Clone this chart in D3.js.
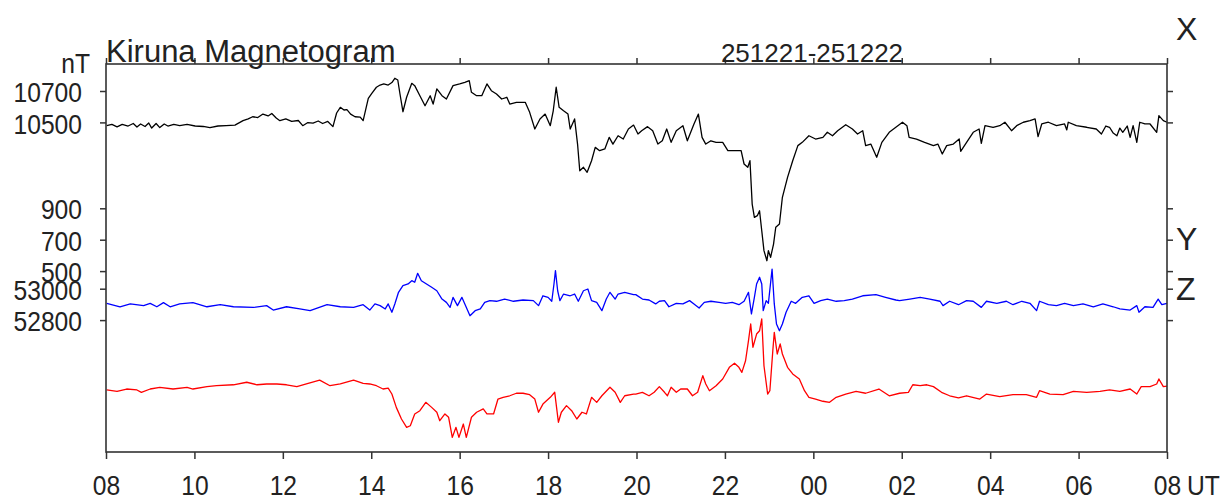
<!DOCTYPE html>
<html><head><meta charset="utf-8">
<script src="https://cdn.jsdelivr.net/npm/d3@7"></script>
<style>
body{margin:0;background:#fff}
svg{display:block}
text{font-family:"Liberation Sans",Arial,Helvetica,sans-serif;fill:#222}
</style>
</head><body>
<svg id="chart" width="1221" height="502"></svg>
<script>
// ---- labels / ticks ----
const titleText = "Kiruna Magnetogram";
const dateText = "251221-251222";
const hourTickMinutes = [0,120,240,360,480,600,720,840,960,1080,1200,1320,1440];
const hourLabels = ["08","10","12","14","16","18","20","22","00","02","04","06","08"];
const xTickValues = [10500,10700];
const yTickValues = [500,700,900];
const zTickValues = [52800,53000];
const componentNames = ["X","Y","Z"];

// ---- X component (black), minutes after 08 UT ----
const xMinutes = [1,8,15,22,30,37,42,47,53,58,62,68,73,79,84,92,100,110,121,132,141,152,163,175,186,193,199,206,213,220,225,231,236,244,252,261,267,274,281,288,294,301,308,313,318,323,327,332,338,345,349,353,356,361,367,372,377,383,388,392,396,399,403,408,415,419,426,433,440,444,449,456,462,471,480,487,493,496,503,510,517,523,530,537,544,548,557,569,575,582,589,596,603,607,611,615,621,627,630,636,640,643,648,653,659,664,670,677,683,688,695,702,709,716,722,727,735,742,749,755,761,767,774,783,789,798,804,809,814,821,828,837,844,853,862,866,871,874,877,880,884,887,890,893,897,899,902,906,909,914,918,925,932,939,945,954,963,973,979,986,993,1004,1013,1020,1027,1031,1038,1046,1053,1063,1072,1081,1087,1090,1100,1111,1123,1129,1135,1141,1150,1158,1160,1168,1177,1185,1188,1193,1204,1213,1220,1229,1236,1245,1254,1261,1265,1270,1279,1290,1301,1304,1306,1317,1331,1344,1351,1357,1362,1367,1372,1376,1380,1386,1390,1394,1399,1403,1410,1417,1426,1429,1435,1440];
const xNT = [10479,10487,10471,10487,10477,10493,10471,10490,10474,10496,10464,10493,10467,10490,10477,10487,10480,10487,10477,10474,10467,10477,10480,10483,10511,10522,10536,10531,10553,10541,10557,10528,10511,10522,10506,10512,10479,10499,10496,10509,10493,10506,10473,10560,10596,10579,10581,10553,10536,10534,10511,10592,10653,10687,10724,10738,10745,10738,10754,10781,10770,10681,10568,10660,10749,10734,10670,10606,10670,10617,10713,10670,10649,10734,10745,10755,10766,10692,10670,10670,10745,10702,10681,10649,10660,10617,10628,10628,10564,10458,10522,10553,10479,10574,10724,10596,10574,10553,10458,10522,10362,10192,10214,10182,10256,10341,10320,10331,10405,10362,10415,10394,10458,10483,10426,10447,10473,10447,10362,10383,10458,10373,10447,10479,10383,10490,10553,10405,10362,10383,10373,10373,10320,10320,10320,10235,10214,10256,9980,9895,9906,9937,9810,9683,9619,9683,9641,9725,9832,9853,10023,10150,10256,10352,10373,10415,10394,10405,10437,10415,10447,10485,10458,10426,10447,10352,10362,10278,10373,10437,10469,10501,10479,10405,10394,10373,10352,10362,10299,10352,10362,10394,10316,10373,10437,10458,10367,10479,10469,10479,10501,10447,10479,10501,10511,10522,10409,10490,10501,10479,10490,10452,10501,10479,10469,10458,10426,10477,10469,10432,10415,10464,10437,10477,10405,10479,10373,10501,10490,10490,10437,10543,10511,10501];

// ---- Z component (blue) ----
const zMinutes = [1,19,33,51,60,69,78,87,100,118,137,155,173,200,218,227,245,263,277,300,318,336,349,
358,365,372,379,383,388,392,397,403,410,415,419,423,428,435,442,449,456,462,467,471,477,483,487,494,501,508,514,521,530,541,553,566,580,587,593,600,605,608,610,613,616,621,630,636,641,648,654,659,666,673,679,684,691,695,704,716,
719,728,737,746,751,758,764,774,783,792,798,805,812,821,832,841,850,859,866,872,876,880,883,887,890,892,896,899,904,907,910,914,918,923,930,936,945,954,961,970,979,991,1002,1013,1027,1045,1058,1072,
1077,1091,1105,1118,1132,1136,1145,1157,1168,1177,1188,1195,1209,1222,1231,1243,1254,1263,1267,1279,1290,1301,1313,1326,1340,1353,1367,1376,1390,1399,1402,1410,1421,1428,1433,1440];
const zNT = [52907,52885,52903,52892,52907,52885,52911,52885,52903,52911,52885,52898,52885,52881,52892,52864,52885,52871,52860,52898,52885,52881,52898,
52864,52903,52892,52871,52903,52850,52903,52977,53019,53030,53051,53041,53098,53051,53030,53009,52987,52934,52913,52881,52945,52892,52945,52903,52828,52860,52871,52913,52924,52920,52934,52920,52928,52924,52892,52955,52945,52920,53030,53115,52987,52924,52966,52955,52966,52920,52987,52998,52924,52913,52860,52934,52977,52934,52966,52977,52962,
52962,52934,52928,52903,52920,52924,52885,52907,52903,52924,52903,52877,52913,52920,52913,52907,52913,52898,52920,52977,52839,52945,53030,53073,53030,52860,52924,52907,53125,52903,52775,52732,52775,52850,52920,52907,52945,52955,52907,52924,52934,52920,52924,52934,52955,52962,52945,52928,
52924,52934,52945,52934,52920,52892,52920,52898,52924,52920,52881,52920,52907,52920,52898,52920,52907,52860,52920,52898,52892,52907,52892,52903,52885,52903,52885,52871,52864,52892,52850,52885,52881,52934,52898,52907];

// ---- Y component (red) ----
const yMinutes = [1,15,28,42,48,60,73,91,110,118,137,150,173,191,205,218,232,245,259,272,290,304,318,336,349,
358,367,376,383,388,394,401,408,413,419,426,434,442,449,453,460,465,470,475,479,485,489,496,503,512,517,526,532,539,548,557,566,575,582,587,593,603,609,614,618,625,632,639,646,652,659,666,673,684,691,698,704,716,
719,728,737,744,751,758,762,767,774,780,789,796,803,810,814,819,828,837,846,853,859,863,868,872,875,878,883,887,890,893,898,901,905,907,911,915,918,925,932,941,948,954,963,973,982,991,1004,1018,1031,1049,1063,
1077,1089,1095,1105,1114,1123,1134,1145,1157,1168,1186,1195,1213,1231,1249,1263,1267,1281,1299,1313,1331,1349,1362,1376,1390,1399,1405,1417,1426,1429,1435,1440];
const yNT = [-257,-266,-251,-257,-272,-251,-240,-251,-240,-251,-236,-230,-224,-208,-224,-219,-219,-224,-236,-219,-194,-230,-219,-194,-215,
-219,-230,-251,-245,-283,-368,-442,-495,-485,-410,-389,-336,-368,-399,-453,-410,-431,-559,-495,-559,-474,-559,-431,-399,-378,-410,-410,-315,-304,-294,-278,-278,-287,-315,-399,-347,-304,-272,-463,-399,-357,-389,-442,-399,-410,-304,-336,-294,-240,-272,-336,-294,-283,
-283,-272,-294,-272,-236,-272,-294,-240,-272,-251,-251,-294,-272,-166,-219,-262,-230,-187,-113,-87,-113,-145,-71,57,163,15,99,120,195,-103,-283,-262,-7,110,-28,36,-28,-113,-155,-187,-262,-304,-315,-329,-336,-304,-283,-266,-278,-251,-294,
-278,-272,-224,-230,-224,-236,-272,-294,-308,-294,-315,-283,-300,-287,-287,-304,-262,-283,-287,-266,-272,-266,-257,-266,-251,-283,-236,-236,-219,-187,-236,-232];

// ---- layout ----
const L = 106, R = 1167, T = 64, B = 452;
const frameColor = "#333";
const labelScale = 0.88;
const labelSize = "28px";

const svg = d3.select("#chart");
const tScale = d3.scaleLinear().domain([0, 1440]).range([L, R]);
const xScale = d3.scaleLinear().domain([10500, 10700]).range([122.4, 91]);
const yScale = d3.scaleLinear().domain([500, 900]).range([271.1, 208.3]);
const zScale = d3.scaleLinear().domain([52800, 53000]).range([320.1, 288.7]);

const series = [
  {m: xMinutes, v: xNT, s: xScale, c: "#000000"},
  {m: zMinutes, v: zNT, s: zScale, c: "#0000ff"},
  {m: yMinutes, v: yNT, s: yScale, c: "#ff0000"}
];
series.forEach(sr => {
  const pts = d3.zip(sr.m, sr.v);
  const line = d3.line().x(d => tScale(d[0])).y(d => sr.s(d[1]));
  svg.append("path").datum(pts).attr("d", line)
    .attr("fill", "none").attr("stroke", sr.c).attr("stroke-width", 1.3)
    .attr("stroke-linejoin", "round");
});

function styleAxis(g){
  g.select(".domain").remove();
  g.selectAll(".tick line").attr("stroke", frameColor).attr("stroke-width", 1.5);
}

// left axes
[[xScale, xTickValues], [yScale, yTickValues], [zScale, zTickValues]].forEach(([sc, tv]) => {
  const g = svg.append("g").attr("transform", `translate(${L},0)`)
    .call(d3.axisLeft(sc).tickValues(tv).tickSize(6).tickFormat(d3.format("d")));
  styleAxis(g);
  g.selectAll(".tick text")
    .attr("x", -24 / labelScale).attr("dy", "0.38em")
    .attr("transform", `scale(${labelScale},1)`)
    .style("font-size", labelSize).style("font-family", "'Liberation Sans',Arial,sans-serif")
    .attr("fill", "#222");
  // right ticks
  const gr = svg.append("g").attr("transform", `translate(${R},0)`)
    .call(d3.axisRight(sc).tickValues(tv).tickSize(6).tickFormat(""));
  styleAxis(gr);
});

// bottom axis
const gb = svg.append("g").attr("transform", `translate(0,${B})`)
  .call(d3.axisBottom(tScale).tickValues(hourTickMinutes).tickSize(7)
    .tickFormat((d, i) => hourLabels[i]));
styleAxis(gb);
gb.selectAll(".tick text")
  .attr("y", 43).attr("dy", 0)
  .attr("transform", `scale(${labelScale},1)`)
  .style("font-size", labelSize).style("font-family", "'Liberation Sans',Arial,sans-serif")
  .attr("fill", "#222");

// top axis
const gt = svg.append("g").attr("transform", `translate(0,${T})`)
  .call(d3.axisTop(tScale).tickValues(hourTickMinutes).tickSize(6).tickFormat(""));
styleAxis(gt);

// frame
svg.append("rect").attr("x", L).attr("y", T).attr("width", R - L).attr("height", B - T)
  .attr("fill", "none").attr("stroke", frameColor).attr("stroke-width", 1.6);

// texts
svg.append("text").attr("x", L).attr("y", 62).style("font-size", "31px").text(titleText);
svg.append("text").attr("x", 812).attr("y", 62).attr("text-anchor", "middle")
  .style("font-size", "26px").text(dateText);
svg.append("text").attr("transform", `translate(90,73) scale(${labelScale},1)`)
  .attr("text-anchor", "end").style("font-size", labelSize).text("nT");
svg.append("text").attr("transform", `translate(1187,495) scale(${labelScale},1)`)
  .style("font-size", labelSize).text("UT");
const compY = [40, 250, 300];
componentNames.forEach((n, i) => {
  svg.append("text").attr("x", 1176).attr("y", compY[i]).style("font-size", "32px").text(n);
});
</script>
</body></html>
